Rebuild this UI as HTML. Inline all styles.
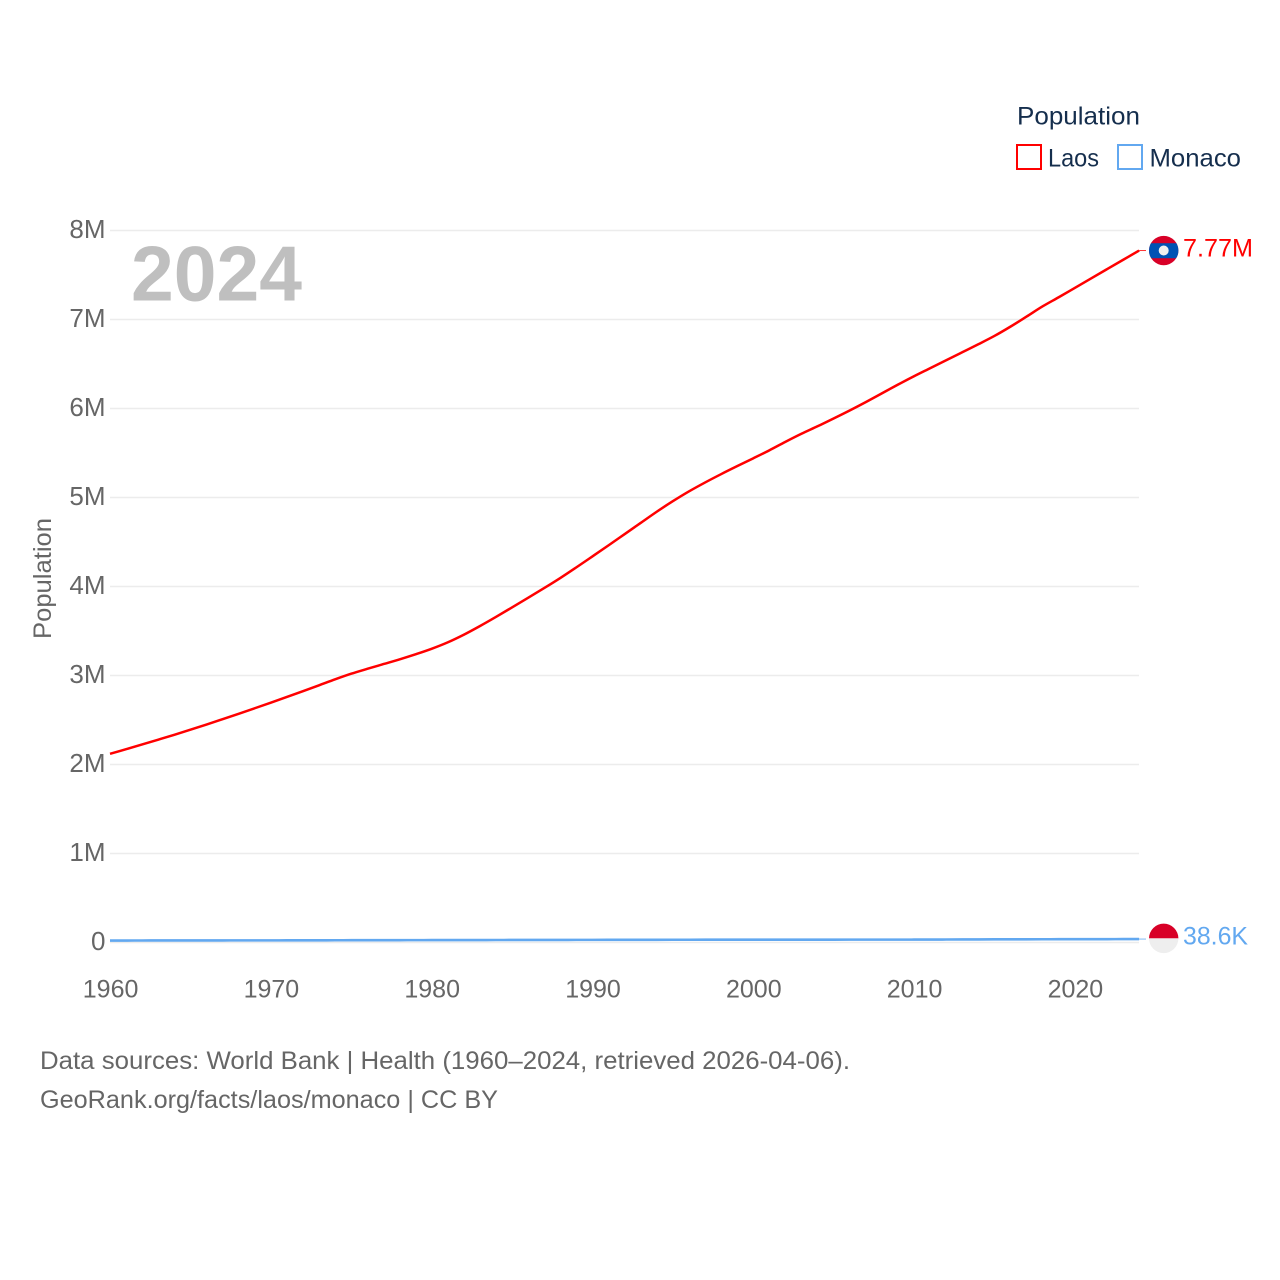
<!DOCTYPE html>
<html lang="en">
<head>
<meta charset="utf-8">
<title>Population: Laos and Monaco</title>
<style>
html,body{margin:0;padding:0;background:#fff;width:1280px;height:1280px;overflow:hidden}
svg{display:block}
text{font-family:"Liberation Sans",sans-serif;font-size:25px;fill:#666}
.navy{fill:#152e4d}
</style>
</head>
<body>
<svg id="chart" xmlns="http://www.w3.org/2000/svg" width="1280" height="1280" viewBox="0 0 1280 1280">
  <g id="grid"></g>
  <g id="y-ticks"></g>
  <g id="x-ticks"></g>
  <text x="131" y="300.5" font-weight="700" textLength="171" lengthAdjust="spacingAndGlyphs" style="font-size:78px;font-weight:700;fill:#bfbfbf">2024</text>
  <text transform="translate(51,639) rotate(-90)" textLength="121" lengthAdjust="spacingAndGlyphs">Population</text>

  <g id="series"></g>

  <g id="laos-end">
    <clipPath id="laos-clip"><circle id="laos-clip-circle" r="14.7"></circle></clipPath>
  </g>
  <g id="monaco-end">
    <clipPath id="monaco-clip"><circle id="monaco-clip-circle" r="14.7"></circle></clipPath>
  </g>

  <text class="navy" x="1017" y="124.5" textLength="123" lengthAdjust="spacingAndGlyphs">Population</text>
  <rect x="1017" y="145" width="24" height="24" fill="#fff" stroke="#ff0000" stroke-width="2"></rect>
  <text class="navy" x="1048" y="166.5" textLength="51" lengthAdjust="spacingAndGlyphs">Laos</text>
  <rect x="1118" y="145" width="24" height="24" fill="#fff" stroke="#62a8f0" stroke-width="2"></rect>
  <text class="navy" x="1149.5" y="166.5" textLength="91.5" lengthAdjust="spacingAndGlyphs">Monaco</text>

  <text x="40" y="1069" textLength="810" lengthAdjust="spacingAndGlyphs">Data sources: World Bank | Health (1960–2024, retrieved 2026-04-06).</text>
  <text x="40" y="1108" textLength="458" lengthAdjust="spacingAndGlyphs">GeoRank.org/facts/laos/monaco | CC BY</text>
</svg>
<script>
const startYear = 1960;
const yTickValues = [0, 1, 2, 3, 4, 5, 6, 7, 8];
const yTickLabels = ['0', '1M', '2M', '3M', '4M', '5M', '6M', '7M', '8M'];
const xTickYears = [1960, 1970, 1980, 1990, 2000, 2010, 2020];
const laosValues = [
  2.120, 2.172, 2.225, 2.279, 2.334, 2.391, 2.449, 2.509, 2.570, 2.632,
  2.695, 2.759, 2.824, 2.890, 2.957, 3.020, 3.075, 3.128, 3.181, 3.238,
  3.300, 3.372, 3.458, 3.555, 3.658, 3.765, 3.873, 3.982, 4.095, 4.215,
  4.338, 4.462, 4.588, 4.714, 4.840, 4.958, 5.068, 5.168, 5.262, 5.352,
  5.440, 5.530, 5.625, 5.716, 5.800, 5.888, 5.978, 6.072, 6.170, 6.268,
  6.362, 6.452, 6.542, 6.632, 6.722, 6.815, 6.920, 7.033, 7.148, 7.250,
  7.355, 7.460, 7.565, 7.670, 7.775
];
const monacoValues = [
  0.0216, 0.0221, 0.0226, 0.0230, 0.0233, 0.0235, 0.0236, 0.0237, 0.0238, 0.0238,
  0.0239, 0.0241, 0.0244, 0.0248, 0.0252, 0.0256, 0.0259, 0.0262, 0.0265, 0.0267,
  0.0269, 0.0271, 0.0274, 0.0277, 0.0280, 0.0283, 0.0286, 0.0289, 0.0291, 0.0294,
  0.0296, 0.0299, 0.0301, 0.0304, 0.0306, 0.0308, 0.0310, 0.0312, 0.0314, 0.0315,
  0.0316, 0.0317, 0.0318, 0.0319, 0.0320, 0.0321, 0.0322, 0.0323, 0.0324, 0.0324,
  0.0325, 0.0330, 0.0336, 0.0342, 0.0348, 0.0354, 0.0358, 0.0362, 0.0365, 0.0367,
  0.0369, 0.0372, 0.0376, 0.0381, 0.0386
];
const endLabels = ['7.77M', '38.6K'];

const NS = 'http://www.w3.org/2000/svg';
function xScale(year) { return 110 + (year - startYear) * 16.08; }
function yScale(millions) { return 942.5 - millions * 89; }
function make(tag, attrs, parent) {
  const el = document.createElementNS(NS, tag);
  for (const k in attrs) el.setAttribute(k, attrs[k]);
  parent.appendChild(el);
  return el;
}

const gridG = document.getElementById('grid');
const yG = document.getElementById('y-ticks');
const xG = document.getElementById('x-ticks');
const seriesG = document.getElementById('series');

yTickValues.forEach(function (v, i) {
  const line = make('line', { x1: 110, x2: 1139, y1: yScale(v), y2: yScale(v), stroke: '#ececec', 'stroke-width': 1.6 }, gridG);
  
  
  const t = make('text', { x: 105.5, y: yScale(v) + 7.5, 'text-anchor': 'end' }, yG);
  
  
  t.style.fontSize = '26px';
  t.textContent = yTickLabels[i];
});

xTickYears.forEach(function (yr) {
  const t = make('text', { x: xScale(yr) + 0.6, y: 997.5, 'text-anchor': 'middle' }, xG);
  
  
  t.textContent = String(yr);
});

/* Smooth curve through each yearly value (Catmull-Rom to cubic Bezier) */
function linePath(values) {
  const pts = values.map(function (v, i) {
    return [xScale(startYear + i), yScale(v)];
  });
  let d = 'M' + pts[0][0].toFixed(2) + ',' + pts[0][1].toFixed(2);
  for (let i = 0; i < pts.length - 1; i++) {
    const p0 = pts[Math.max(i - 1, 0)];
    const p1 = pts[i];
    const p2 = pts[i + 1];
    const p3 = pts[Math.min(i + 2, pts.length - 1)];
    const c1x = p1[0] + (p2[0] - p0[0]) / 6;
    const c1y = p1[1] + (p2[1] - p0[1]) / 6;
    const c2x = p2[0] - (p3[0] - p1[0]) / 6;
    const c2y = p2[1] - (p3[1] - p1[1]) / 6;
    d += 'C' + c1x.toFixed(2) + ',' + c1y.toFixed(2) + ' ' + c2x.toFixed(2) + ',' + c2y.toFixed(2) + ' ' + p2[0].toFixed(2) + ',' + p2[1].toFixed(2);
  }
  return d;
}

const monacoLine = make('path', { d: linePath(monacoValues), fill: 'none', stroke: '#62a8f0', 'stroke-width': 2.6, 'stroke-linejoin': 'round' }, seriesG);



const laosLine = make('path', { d: linePath(laosValues), fill: 'none', stroke: '#ff0000', 'stroke-width': 2.5, 'stroke-linejoin': 'round' }, seriesG);



const lastX = xScale(startYear + laosValues.length - 1);

/* Laos end marker */
const laosY = yScale(laosValues[laosValues.length - 1]);
const laosGroup = document.getElementById('laos-end');
const laosConn = make('line', { x1: lastX, x2: 1146, y1: laosY, y2: laosY, stroke: '#ff0000', 'stroke-width': 1, opacity: 0.8 }, laosGroup);


document.getElementById('laos-clip-circle').setAttribute('cx', 1163.7);
document.getElementById('laos-clip-circle').setAttribute('cy', laosY);
const laosFlag = make('g', { 'clip-path': 'url(#laos-clip)' }, laosGroup);


make('rect', { x: 1149, y: laosY - 15, width: 30, height: 30, fill: '#d80027' }, laosFlag);
make('rect', { x: 1149, y: laosY - 7.3, width: 30, height: 15, fill: '#0052b4' }, laosFlag);
make('circle', { cx: 1163.7, cy: laosY, r: 5, fill: '#f0f0f0' }, laosFlag);
const laosLabel = make('text', { x: 1183, y: laosY + 6, textLength: 70, lengthAdjust: 'spacingAndGlyphs' }, laosGroup);


laosLabel.style.fill = '#ff0000';
laosLabel.textContent = endLabels[0];

/* Monaco end marker */
const monacoY = yScale(monacoValues[monacoValues.length - 1]);
const monacoGroup = document.getElementById('monaco-end');
const monacoConn = make('line', { x1: lastX, x2: 1146, y1: monacoY, y2: monacoY, stroke: '#62a8f0', 'stroke-width': 1, opacity: 0.8 }, monacoGroup);


document.getElementById('monaco-clip-circle').setAttribute('cx', 1163.7);
document.getElementById('monaco-clip-circle').setAttribute('cy', monacoY - 0.7);
const monacoFlag = make('g', { 'clip-path': 'url(#monaco-clip)' }, monacoGroup);


make('rect', { x: 1149, y: monacoY - 16, width: 30, height: 15.3, fill: '#d80027' }, monacoFlag);
make('rect', { x: 1149, y: monacoY - 0.7, width: 30, height: 16, fill: '#eeeeee' }, monacoFlag);
const monacoLabel = make('text', { x: 1183, y: monacoY + 5.5, textLength: 65, lengthAdjust: 'spacingAndGlyphs' }, monacoGroup);


monacoLabel.style.fill = '#62a8f0';
monacoLabel.textContent = endLabels[1];
</script>
</body>
</html>
